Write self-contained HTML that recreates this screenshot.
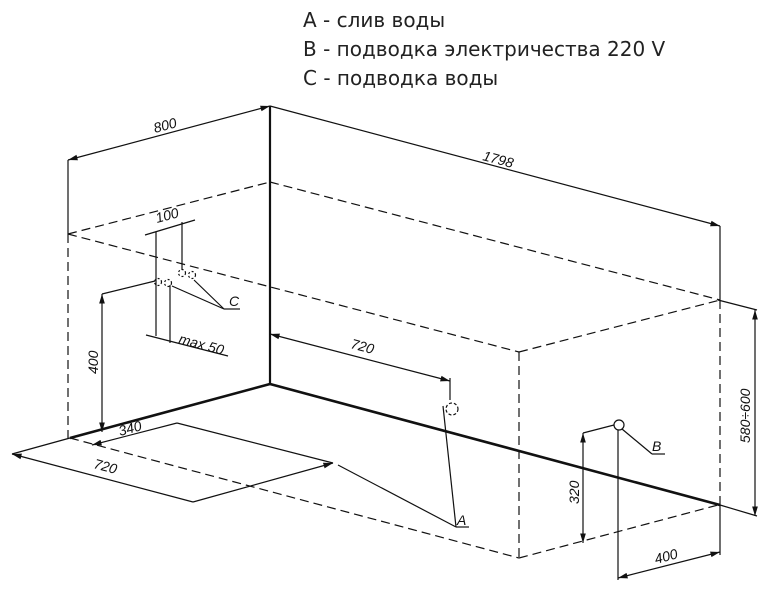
<!DOCTYPE html>
<html><head><meta charset="utf-8"><style>
html,body{margin:0;padding:0;background:#fff;}
svg{display:block;}
.t{font-family:"DejaVu Sans",sans-serif;font-size:20px;fill:#222;}
.d{font-family:"Liberation Sans",sans-serif;font-size:14px;font-style:italic;fill:#111;}
</style></head><body>
<svg width="770" height="592" viewBox="0 0 770 592" xmlns="http://www.w3.org/2000/svg">
<defs><marker id="a" viewBox="0 0 10 6" refX="10" refY="3" markerWidth="8" markerHeight="5" orient="auto-start-reverse"><path d="M0,0L10,3L0,6z" fill="#111"/></marker></defs>
<text class="t" x="303" y="27">A - слив воды</text>
<text class="t" x="303" y="56">B - подводка электричества 220 V</text>
<text class="t" x="303" y="85">C - подводка воды</text>
<g stroke="#111" fill="none" stroke-width="1.2">
<g stroke-dasharray="9,5">
<line x1="68" y1="234" x2="270" y2="182"/>
<line x1="270" y1="182" x2="720" y2="300"/>
<line x1="68" y1="234" x2="519" y2="352"/>
<line x1="519" y1="352" x2="720" y2="300"/>
<line x1="68" y1="234" x2="68" y2="438"/>
<line x1="519" y1="352" x2="519" y2="558"/>
<line x1="720" y1="300" x2="720" y2="505"/>
<line x1="70" y1="438" x2="519" y2="558"/>
<line x1="519" y1="558" x2="718" y2="505"/>
</g>
<line x1="270" y1="106" x2="270" y2="384" stroke-width="2.2"/>
<line x1="270" y1="384" x2="70" y2="438" stroke-width="2.6"/>
<line x1="270" y1="384" x2="720" y2="505" stroke-width="2.6"/>
<line x1="70" y1="438" x2="12" y2="454"/>
<line x1="720" y1="505" x2="757" y2="516"/>
<line x1="68" y1="160" x2="270" y2="106" marker-start="url(#a)" marker-end="url(#a)"/>
<line x1="68" y1="160" x2="68" y2="234"/>
<line x1="270" y1="106" x2="720" y2="226" marker-end="url(#a)"/>
<line x1="720" y1="226" x2="720" y2="300"/>
<line x1="718" y1="300" x2="757" y2="310"/>
<line x1="755" y1="310" x2="755" y2="516" marker-start="url(#a)" marker-end="url(#a)"/>
<line x1="145" y1="235" x2="195" y2="220"/>
<line x1="156" y1="232" x2="156" y2="336"/>
<line x1="182" y1="222" x2="182" y2="270"/>
<line x1="170" y1="285" x2="170" y2="343"/>
<line x1="146" y1="335" x2="228" y2="356"/>
<line x1="102" y1="294" x2="155" y2="281"/>
<line x1="102" y1="294" x2="102" y2="432" marker-start="url(#a)" marker-end="url(#a)"/>
<line x1="172" y1="286" x2="224" y2="309"/>
<line x1="194" y1="280" x2="224" y2="309"/>
<line x1="224" y1="309" x2="240" y2="309"/>
<g stroke-dasharray="2,2"><circle cx="158" cy="282" r="3.5"/><circle cx="168" cy="283" r="3.5"/><circle cx="182" cy="273" r="3.5"/><circle cx="192" cy="275" r="3.5"/></g>
<line x1="270" y1="334" x2="450" y2="381" marker-start="url(#a)" marker-end="url(#a)"/>
<line x1="450" y1="378" x2="450" y2="400"/>
<circle cx="452" cy="409" r="6" stroke-dasharray="3,2"/>
<line x1="443" y1="406" x2="456" y2="527"/>
<line x1="456" y1="527" x2="469" y2="527"/>
<line x1="92" y1="445" x2="177" y2="423" marker-start="url(#a)"/>
<line x1="177" y1="423" x2="333" y2="463"/>
<line x1="12" y1="454" x2="193" y2="502" marker-start="url(#a)"/>
<line x1="193" y1="502" x2="333" y2="463" marker-end="url(#a)"/>
<line x1="338" y1="465" x2="456" y2="527"/>
<circle cx="619" cy="425" r="5"/>
<line x1="618" y1="430" x2="618" y2="580"/>
<line x1="583" y1="433" x2="614" y2="425"/>
<line x1="583" y1="433" x2="583" y2="543" marker-start="url(#a)" marker-end="url(#a)"/>
<line x1="622" y1="429" x2="652" y2="454"/>
<line x1="652" y1="454" x2="665" y2="454"/>
<line x1="720" y1="505" x2="720" y2="555"/>
<line x1="618" y1="578" x2="720" y2="552" marker-start="url(#a)" marker-end="url(#a)"/>
</g>
<text class="d" transform="translate(155,133) rotate(-15)">800</text>
<text class="d" transform="translate(482,160) rotate(15)">1798</text>
<text class="d" transform="translate(750,443) rotate(-90)">580÷600</text>
<text class="d" transform="translate(157,223) rotate(-15)">100</text>
<text class="d" x="229" y="306" font-size="17">C</text>
<text class="d" transform="translate(178,343) rotate(15)">max 50</text>
<text class="d" transform="translate(98,374) rotate(-90)">400</text>
<text class="d" transform="translate(350,348) rotate(15)">720</text>
<text class="d" transform="translate(120,436) rotate(-15)">340</text>
<text class="d" transform="translate(93,468) rotate(15)">720</text>
<text class="d" x="457" y="525" font-size="17">A</text>
<text class="d" x="652" y="451" font-size="17">B</text>
<text class="d" transform="translate(579,504) rotate(-90)">320</text>
<text class="d" transform="translate(656,564) rotate(-15)">400</text>
</svg>
</body></html>
